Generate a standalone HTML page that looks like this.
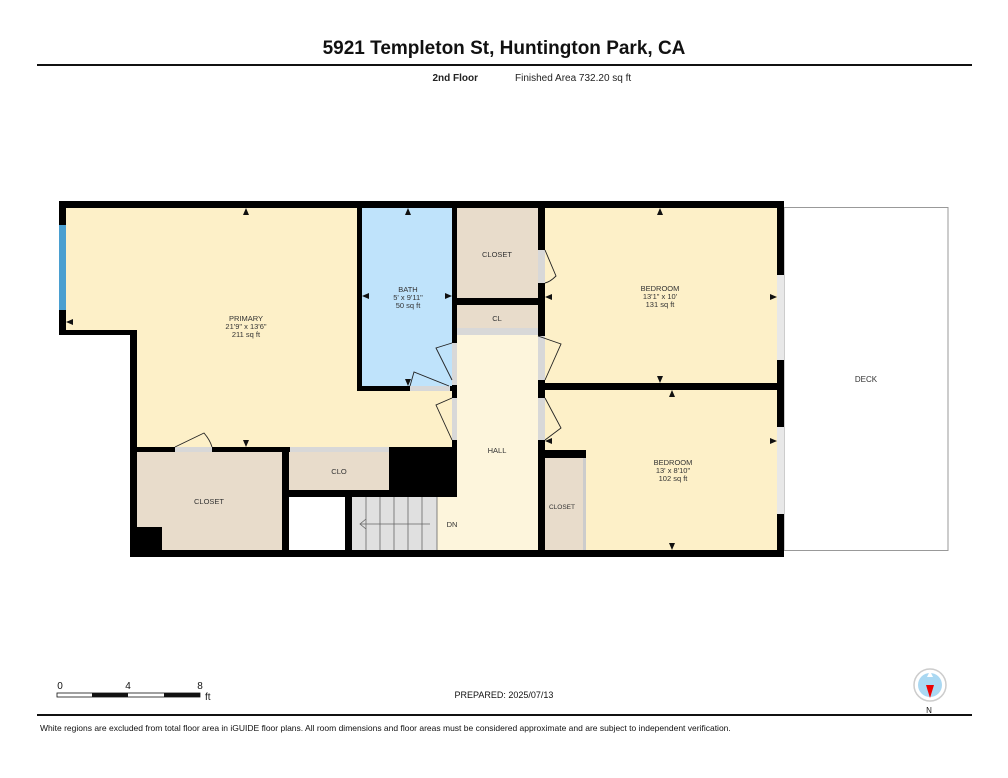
<!DOCTYPE html>
<html><head><meta charset="utf-8"><style>
body{margin:0;background:#fff;}
svg{display:block;font-family:"Liberation Sans",Arial,sans-serif;}
</style></head><body>
<svg width="1008" height="778" viewBox="0 0 1008 778">
<rect width="1008" height="778" fill="#fff"/>
<text x="504" y="54" font-size="19" font-weight="bold" text-anchor="middle" fill="#111">5921 Templeton St, Huntington Park, CA</text>
<rect x="37" y="64" width="935" height="2" fill="#111"/>
<text x="478" y="81" font-size="10" font-weight="bold" text-anchor="end" fill="#222">2nd Floor</text>
<text x="515" y="81" font-size="10" fill="#222">Finished Area 732.20 sq ft</text>

<rect x="784" y="207.5" width="164" height="343" fill="#fff" stroke="#999" stroke-width="1"/>
<text x="866" y="382" font-size="8" text-anchor="middle" fill="#333">DECK</text>

<path d="M59 201 H784 V557 H130 V335 H59 Z" fill="#000"/>
<path d="M66 208 H357 V391 H452 V447 H137 V330 H66 Z" fill="#fdf0c8"/>
<rect x="362" y="208" width="90" height="178" fill="#bfe3fb"/>
<rect x="457" y="208" width="81" height="90" fill="#e8dccb"/>
<rect x="457" y="305" width="81" height="23" fill="#e8dccb"/>
<rect x="457" y="328" width="81" height="7" fill="#d8d8d8"/>
<rect x="457" y="335" width="81" height="215" fill="#fdf5dc"/>
<rect x="545" y="208" width="232" height="175" fill="#fdf0c8"/>
<rect x="545" y="390" width="232" height="160" fill="#fdf0c8"/>
<rect x="540" y="450" width="46" height="8" fill="#000"/>
<rect x="545" y="458" width="38" height="92" fill="#e8dccb"/>
<rect x="586" y="458" width="5" height="92" fill="#fdf0c8"/>
<rect x="583" y="458" width="3" height="92" fill="#ccc"/>
<rect x="137" y="452" width="145" height="98" fill="#e8dccb"/>
<rect x="137" y="527" width="25" height="23" fill="#000"/>
<rect x="289" y="452" width="100" height="38" fill="#e8dccb"/>
<rect x="289" y="497" width="56" height="53" fill="#fff"/>
<rect x="352" y="497" width="85" height="53" fill="#e0e0e0"/>
<rect x="437" y="497" width="20" height="53" fill="#fdf5dc"/>
<g stroke="#666" stroke-width="0.8">
<line x1="366" y1="497" x2="366" y2="550"/><line x1="380" y1="497" x2="380" y2="550"/>
<line x1="394" y1="497" x2="394" y2="550"/><line x1="408" y1="497" x2="408" y2="550"/>
<line x1="422" y1="497" x2="422" y2="550"/><line x1="437" y1="497" x2="437" y2="550"/>
<line x1="360" y1="524" x2="430" y2="524"/><polyline points="366,519 360,524 366,529" fill="none"/>
</g>
<rect x="389" y="447" width="68" height="50" fill="#000"/>
<rect x="59" y="225" width="7" height="85" fill="#4a9fd0"/>
<rect x="777" y="275" width="7" height="85" fill="#e8e8e8"/>
<rect x="777" y="427" width="7" height="87" fill="#e8e8e8"/>
<rect x="538" y="250" width="7" height="33" fill="#d8d8d8"/>
<rect x="452" y="343" width="5" height="42" fill="#d8d8d8"/>
<rect x="452" y="398" width="5" height="42" fill="#d8d8d8"/>
<rect x="538" y="336" width="7" height="44" fill="#d8d8d8"/>
<rect x="538" y="398" width="7" height="42" fill="#d8d8d8"/>
<rect x="410" y="386" width="40" height="5" fill="#d8d8d8"/>
<rect x="175" y="447" width="37" height="5" fill="#d8d8d8"/>
<rect x="290" y="447" width="99" height="5" fill="#d8d8d8"/>
<g fill="none" stroke="#222" stroke-width="0.9">
<path d="M545 250 L556 276 Q550 282 545 283"/>
<path d="M452 343 L436 348 L452 380"/>
<path d="M538 336 L561 344 L545 380"/>
<path d="M545 398 L561 428 L545 440"/>
<path d="M452 398 L436 405 L452 440"/>
<path d="M410 386 L414 372 L449 386"/>
<path d="M175 447 L204 433 Q210 440 212 447"/>
</g>
<g fill="#111">
<path d="M246 208 l-3 7 h6 z"/><path d="M246 447 l-3 -7 h6 z"/><path d="M66 322 l7 -3 v6 z"/>
<path d="M408 208 l-3 7 h6 z"/><path d="M408 386 l-3 -7 h6 z"/><path d="M362 296 l7 -3 v6 z"/><path d="M452 296 l-7 -3 v6 z"/>
<path d="M660 208 l-3 7 h6 z"/><path d="M660 383 l-3 -7 h6 z"/><path d="M545 297 l7 -3 v6 z"/><path d="M777 297 l-7 -3 v6 z"/>
<path d="M672 390 l-3 7 h6 z"/><path d="M672 550 l-3 -7 h6 z"/><path d="M545 441 l7 -3 v6 z"/><path d="M777 441 l-7 -3 v6 z"/>
</g>
<g font-size="7.5" fill="#333" text-anchor="middle">
<text x="246" y="321">PRIMARY</text><text x="246" y="329">21'9" x 13'6"</text><text x="246" y="337">211 sq ft</text>
<text x="408" y="292">BATH</text><text x="408" y="300">5' x 9'11"</text><text x="408" y="308">50 sq ft</text>
<text x="497" y="257">CLOSET</text><text x="497" y="321">CL</text>
<text x="497" y="453">HALL</text><text x="452" y="527">DN</text>
<text x="209" y="504">CLOSET</text><text x="339" y="474">CLO</text>
<text x="660" y="291">BEDROOM</text><text x="660" y="299">13'1" x 10'</text><text x="660" y="307">131 sq ft</text>
<text x="673" y="465">BEDROOM</text><text x="673" y="473">13' x 8'10"</text><text x="673" y="481">102 sq ft</text>
<text x="562" y="509" font-size="6.5">CLOSET</text>
</g>
<text x="60" y="689" font-size="10" text-anchor="middle" fill="#111">0</text>
<text x="128" y="689" font-size="10" text-anchor="middle" fill="#111">4</text>
<text x="200" y="689" font-size="10" text-anchor="middle" fill="#111">8</text>
<text x="205" y="700" font-size="10" fill="#111">ft</text>
<rect x="57" y="693" width="143" height="4" fill="#fff" stroke="#111" stroke-width="0.8"/>
<rect x="92" y="693" width="36" height="4" fill="#111"/><rect x="164" y="693" width="36" height="4" fill="#111"/>
<text x="504" y="698" font-size="9" text-anchor="middle" fill="#111">PREPARED: 2025/07/13</text>
<circle cx="930" cy="685" r="16" fill="#fff" stroke="#ccc" stroke-width="1.5"/>
<circle cx="930" cy="685" r="12" fill="#aad8f2"/>
<path d="M927 677 L930 671 L933 677 Z" fill="#fff"/>
<path d="M926 685 L934 685 L930 698 Z" fill="#e00"/>
<text x="929" y="713" font-size="8" text-anchor="middle" fill="#111">N</text>
<rect x="37" y="714" width="935" height="2" fill="#111"/>
<text x="40" y="731" font-size="8.5" fill="#111">White regions are excluded from total floor area in iGUIDE floor plans. All room dimensions and floor areas must be considered approximate and are subject to independent verification.</text>
</svg>
</body></html>
